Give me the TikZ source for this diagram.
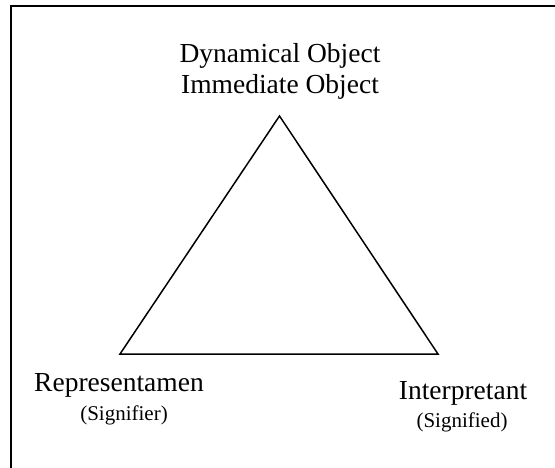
\documentclass[tikz,border=0pt]{standalone}
\usepackage{fontspec}
\setmainfont{Liberation Serif}
\usetikzlibrary{positioning}

\tikzset{
  corner/.style={inner sep=0pt, minimum size=0pt},
  biglabel/.style={inner sep=0pt, anchor=base, font=\fontsize{27.5}{31}\selectfont},
  smalllabel/.style={inner sep=0pt, anchor=base, font=\fontsize{21}{24}\selectfont},
}

\begin{document}
\begin{tikzpicture}[x=1pt, y=-1pt]
  \useasboundingbox (0,0) rectangle (555,468);
  \clip (0,0) rectangle (555,468);
  % frame, running off the right and bottom edge
  \draw[line width=2pt] (11,6) rectangle (570,485);

  % corners of the triangle
  \node[corner] (obj) at (279.5,116) {};
  \node[corner] (rep) at (120,354) {};
  \node[corner] (int) at (438,354) {};
  \draw[line width=1.5pt, line join=miter] (obj.center) -- (rep.center) -- (int.center) -- cycle;

  % labels
  \node[biglabel] (dyn) at (280,63) {Dynamical Object};
  \node[biglabel] (imm) at (280,94) {Immediate Object};
  \node[biglabel] (repl) at (119,391) {Representamen};
  \node[smalllabel] (repn) at (124,420) {(Signifier)};
  \node[biglabel] (intl) at (463,399) {Interpretant};
  \node[smalllabel] (intn) at (462,427) {(Signified)};
\end{tikzpicture}
\end{document}
